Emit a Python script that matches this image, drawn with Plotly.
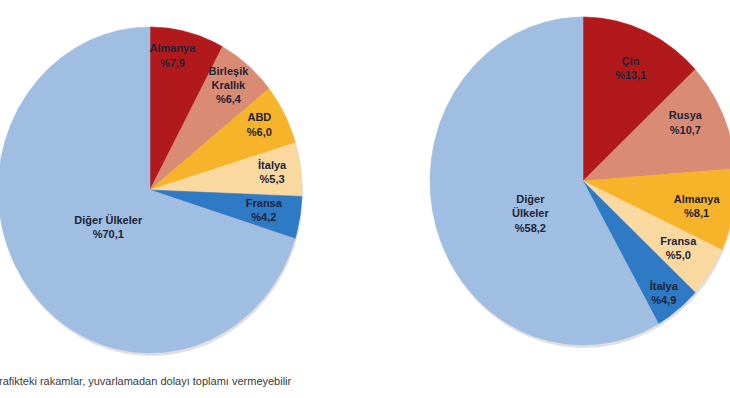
import numpy as np
import plotly.graph_objects as go

# ---------------- data ----------------
LEFT_LABELS = ["Almanya", "Birleşik<br>Krallık", "ABD", "İtalya", "Fransa", "Diğer Ülkeler"]
LEFT_VALUES = [7.9, 6.4, 6.0, 5.3, 4.2, 70.1]

RIGHT_LABELS = ["Çin", "Rusya", "Almanya", "Fransa", "İtalya", "Diğer<br>Ülkeler"]
RIGHT_VALUES = [13.1, 10.7, 8.1, 5.0, 4.9, 58.2]

FOOTNOTE = "rafikteki rakamlar, yuvarlamadan dolayı toplamı vermeyebilir"

# ---------------- styles ----------------
SLICE_COLORS = ["#B2191B", "#D98B74", "#F7B42A", "#FAD9A0", "#2E7AC4", "#A0BDE2"]
TEXT_COLOR = "#1C2438"

# pie geometry (pixel space): center x, center y, radius x, radius y
LEFT_GEOM = (150, 190, 152, 163)
RIGHT_GEOM = (583, 181, 153, 164)

# label placement: radial fraction and angular offset (deg) per slice
LEFT_LABEL_R = [0.83, 0.82, 0.82, 0.81, 0.76, 0.36]
LEFT_LABEL_DA = [-4, -1, -1, 0, 0, -4]
RIGHT_LABEL_R = [0.75, 0.755, 0.76, 0.75, 0.87, 0.40]
RIGHT_LABEL_DA = [1, -4, 2, 0, 1, -16]

W, H = 730, 398

fig = go.Figure()


def pt(geom, theta_deg, r=1.0):
    cx, cy, rx, ry = geom
    t = np.radians(theta_deg)
    return cx + rx * r * np.sin(t), cy - ry * r * np.cos(t)


def add_pie(labels, values, geom, label_r, label_da):
    cx, cy, rx, ry = geom
    vals = np.array(values, dtype=float)
    angles = vals / vals.sum() * 360.0
    starts = np.concatenate([[0.0], np.cumsum(angles)[:-1]])

    # soft shadow
    tt = np.linspace(0, 360, 361)
    sx, sy = pt((cx + 1, cy + 3, rx, ry), tt)
    fig.add_trace(go.Scatter(x=sx, y=sy, mode="lines", fill="toself",
                             fillcolor="rgba(0,0,0,0.12)", line=dict(width=0),
                             hoverinfo="skip", showlegend=False))

    for i, (a0, da) in enumerate(zip(starts, angles)):
        n = max(3, int(da * 2))
        th = np.linspace(a0, a0 + da, n)
        ax, ay = pt(geom, th)
        xs = np.concatenate([[cx], ax, [cx]])
        ys = np.concatenate([[cy], ay, [cy]])
        fig.add_trace(go.Scatter(x=xs, y=ys, mode="lines", fill="toself",
                                 fillcolor=SLICE_COLORS[i],
                                 line=dict(width=0.6, color=SLICE_COLORS[i]),
                                 hoverinfo="skip", showlegend=False))

    lx, ly, lt = [], [], []
    for i, (a0, da) in enumerate(zip(starts, angles)):
        mid = a0 + da / 2 + label_da[i]
        x, y = pt(geom, mid, label_r[i])
        lx.append(x)
        ly.append(y)
        v = f"{values[i]:.1f}".replace(".", ",")
        lt.append(f"<b>{labels[i]}<br>%{v}</b>")
    fig.add_trace(go.Scatter(x=lx, y=ly, mode="text", text=lt,
                             textposition="middle center",
                             textfont=dict(family="Arial, Liberation Sans, sans-serif",
                                           size=11, color=TEXT_COLOR),
                             hoverinfo="skip", showlegend=False))


add_pie(LEFT_LABELS, LEFT_VALUES, LEFT_GEOM, LEFT_LABEL_R, LEFT_LABEL_DA)
add_pie(RIGHT_LABELS, RIGHT_VALUES, RIGHT_GEOM, RIGHT_LABEL_R, RIGHT_LABEL_DA)

fig.add_annotation(x=0, y=381, xref="paper", yref="y", text=FOOTNOTE,
                   showarrow=False, xanchor="left", yanchor="middle", xshift=-3,
                   font=dict(family="Arial, Liberation Sans, sans-serif", size=11,
                             color="#3A3A3A"))

fig.update_layout(
    width=W, height=H,
    margin=dict(l=0, r=0, t=0, b=0),
    paper_bgcolor="white", plot_bgcolor="white",
    xaxis=dict(range=[0, W], visible=False, fixedrange=True),
    yaxis=dict(range=[H, 0], visible=False, fixedrange=True),
    showlegend=False,
    hovermode=False,
)

fig.write_html("out.html",
               config={"displayModeBar": False, "staticPlot": True},
               post_script="document.body.style.margin='0';document.body.style.overflow='hidden';")
